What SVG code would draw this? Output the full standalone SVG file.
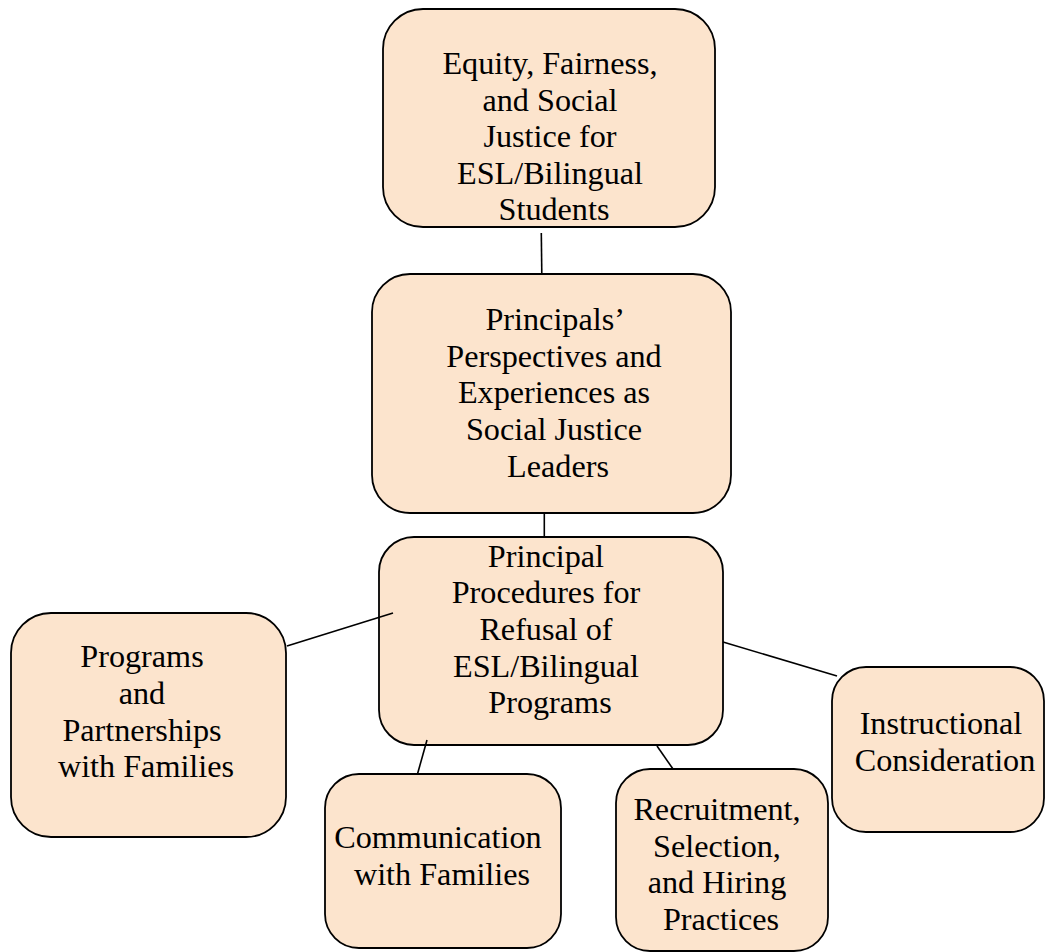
<svg xmlns="http://www.w3.org/2000/svg" width="1045" height="952" viewBox="0 0 1045 952">
  <style>
    .box { fill: #FCE4CD; stroke: #000; stroke-width: 1.8; }
    .lbl { font-family: "Liberation Serif", "Times New Roman", serif; font-size: 32.2px; fill: #000; text-anchor: middle; }
    .link { stroke: #000; stroke-width: 1.6; fill: none; }
  </style>
  <rect width="1045" height="952" fill="#fff"/>

  <g id="equity">
    <rect class="box" x="383" y="9" width="332" height="218" rx="40" ry="40"/>
    <text class="lbl">
      <tspan x="554" y="74">Equity, Fairness,</tspan>
      <tspan x="554" y="110.5">and Social</tspan>
      <tspan x="554" y="147">Justice for</tspan>
      <tspan x="554" y="183.5">ESL/Bilingual</tspan>
      <tspan x="554" y="220">Students</tspan>
    </text>
  </g>

  <g id="perspectives">
    <rect class="box" x="372" y="274" width="359" height="239" rx="38" ry="38"/>
    <text class="lbl">
      <tspan x="558" y="330">Principals’</tspan>
      <tspan x="558" y="366.7">Perspectives and</tspan>
      <tspan x="558" y="403.3">Experiences as</tspan>
      <tspan x="558" y="440">Social Justice</tspan>
      <tspan x="558" y="476.7">Leaders</tspan>
    </text>
  </g>

  <g id="procedures">
    <rect class="box" x="379" y="537" width="344" height="208" rx="35" ry="35"/>
    <text class="lbl">
      <tspan x="550" y="566.7">Principal</tspan>
      <tspan x="550" y="603.4">Procedures for</tspan>
      <tspan x="550" y="640">Refusal of</tspan>
      <tspan x="550" y="676.7">ESL/Bilingual</tspan>
      <tspan x="550" y="713.4">Programs</tspan>
    </text>
  </g>

  <g id="partnerships">
    <rect class="box" x="11" y="613" width="275" height="224" rx="40" ry="40"/>
    <text class="lbl">
      <tspan x="146" y="667.3">Programs</tspan>
      <tspan x="146" y="704">and</tspan>
      <tspan x="146" y="740.7">Partnerships</tspan>
      <tspan x="146" y="777.4">with Families</tspan>
    </text>
  </g>

  <g id="communication">
    <rect class="box" x="325" y="774" width="236" height="174" rx="34" ry="34"/>
    <text class="lbl">
      <tspan x="442" y="848.3">Communication</tspan>
      <tspan x="442" y="885">with Families</tspan>
    </text>
  </g>

  <g id="recruitment">
    <rect class="box" x="616" y="769" width="212" height="182" rx="34" ry="34"/>
    <text class="lbl">
      <tspan x="721" y="820">Recruitment,</tspan>
      <tspan x="721" y="856.7">Selection,</tspan>
      <tspan x="721" y="893.3">and Hiring</tspan>
      <tspan x="721" y="930">Practices</tspan>
    </text>
  </g>

  <g id="instructional">
    <rect class="box" x="832" y="667" width="212" height="165" rx="34" ry="34"/>
    <text class="lbl">
      <tspan x="945" y="734">Instructional</tspan>
      <tspan x="945" y="770.7">Consideration</tspan>
    </text>
  </g>

  <g id="connectors">
    <line class="link" x1="541.3" y1="233" x2="541.8" y2="274"/>
    <line class="link" x1="544.3" y1="513" x2="544.3" y2="537"/>
    <line class="link" x1="287" y1="646" x2="393" y2="613"/>
    <line class="link" x1="427" y1="740" x2="417.5" y2="774"/>
    <line class="link" x1="657" y1="746" x2="673" y2="769"/>
    <line class="link" x1="723" y1="642" x2="837" y2="676"/>
  </g>
</svg>
